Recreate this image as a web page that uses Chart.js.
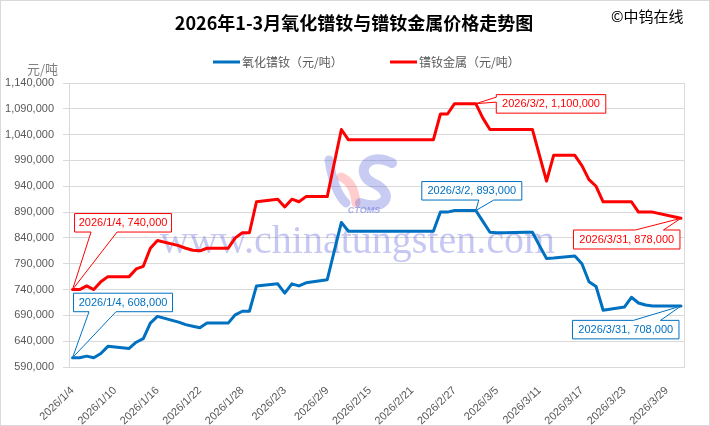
<!DOCTYPE html>
<html><head><meta charset="utf-8">
<script src="https://cdn.jsdelivr.net/npm/chart.js@4.4.1/dist/chart.umd.min.js"></script>
<style>html,body{margin:0;padding:0;background:#fff}#wrap{position:relative;width:710px;height:426px}canvas{display:block}</style>
</head><body><div id="wrap"><canvas id="c" width="710" height="426"></canvas></div>
<script>
// ---------- data ----------
const chartTitle = '2026年1-3月氧化镨钕与镨钕金属价格走势图';
const sourceText = '©中钨在线';
const unitText = '元/吨';
const watermarkText = 'www.chinatungsten.com';
const seriesNames = ['氧化镨钕（元/吨）', '镨钕金属（元/吨）'];
const dates = ['1/4','1/5','1/6','1/7','1/8','1/9','1/12','1/13','1/14','1/15','1/16','1/19','1/20','1/21','1/22','1/23',
  '1/26','1/27','1/28','1/29','1/30','2/2','2/3','2/4','2/5','2/6','2/9','2/10','2/11','2/12','2/13','2/14',
  '2/24','2/25','2/26','2/27','2/28','3/2','3/3','3/4','3/5','3/6','3/9','3/10','3/11','3/12','3/13',
  '3/16','3/17','3/18','3/19','3/20','3/23','3/24','3/25','3/26','3/27','3/30','3/31'];
const oxideValues = [608000,608000,611000,608000,616000,630000,626000,638000,645000,675000,688000,677000,672000,669000,666000,675000,
  675000,691000,698000,698000,747000,751000,733000,751000,747000,753000,759000,815000,870000,853000,853000,853000,
  853000,890000,890000,893000,893000,893000,872000,851000,850000,850000,851000,851000,825000,800000,801000,
  805000,790000,755000,746000,700000,706000,725000,714000,710000,708000,708000,708000];
const metalValues = [740000,740000,747000,740000,755000,765000,765000,780000,785000,820000,835000,825000,820000,816000,815000,820000,
  820000,840000,850000,850000,910000,915000,900000,915000,910000,920000,920000,985000,1050000,1030000,1030000,1030000,
  1030000,1080000,1080000,1100000,1100000,1100000,1072000,1050000,1050000,1050000,1050000,1050000,1000000,950000,1000000,
  1000000,980000,953000,940000,910000,910000,910000,890000,890000,890000,881000,878000];
const xTickLabels = ['2026/1/4','2026/1/10','2026/1/16','2026/1/22','2026/1/28','2026/2/3','2026/2/9','2026/2/15',
  '2026/2/21','2026/2/27','2026/3/5','2026/3/11','2026/3/17','2026/3/23','2026/3/29'];
const yMin = 590000, yMax = 1140000, yStep = 50000;
const labelledPoints = [ // [series index, date]
  [1,'1/4'],[0,'1/4'],[1,'3/2'],[0,'3/2'],[1,'3/31'],[0,'3/31']
];

// ---------- helpers ----------
const YEAR = 2026;
const base = Date.UTC(YEAR,0,4);
function dayIndex(md){ const p = md.split('/').map(Number); const m = p.length===3 ? p.slice(1) : p; return (Date.UTC(YEAR,m[0]-1,m[1]) - base)/86400000; }
function fmtDay(v){ const d = new Date(base + v*86400000); return YEAR + '/' + (d.getUTCMonth()+1) + '/' + d.getUTCDate(); }
const fmtNum = v => Number(v).toLocaleString('en-US');
const COLORS = ['#0070C0', '#FF0000'];
const seriesValues = [oxideValues, metalValues];

// callout box styles (pixel offsets from the labelled point)
const calloutStyle = [
  {dx:2, dy:-76, w:97, h:18.5, side:'bottom', a:16.5, b:42.5},
  {dx:1, dy:-64.5, w:99, h:18.5, side:'bottom', a:15.5, b:42.5},
  {dx:20.5, dy:-9, w:109.5, h:18.5, side:'left', a:2.5, b:7.5},
  {dx:-54, dy:-29, w:100, h:18.5, side:'bottom', a:57, b:72},
  {dx:-107.5, dy:11.7, w:106.5, h:19, side:'top', a:62, b:90},
  {dx:-108.5, dy:14.3, w:106.5, h:18.5, side:'top', a:61, b:88}
];

function callout(ctx, x, y, w, h, side, a, b, tx, ty, color, text){
  ctx.save();
  ctx.beginPath();
  if (side === 'bottom'){
    ctx.moveTo(x,y); ctx.lineTo(x+w,y); ctx.lineTo(x+w,y+h); ctx.lineTo(x+b,y+h); ctx.lineTo(tx,ty); ctx.lineTo(x+a,y+h); ctx.lineTo(x,y+h);
  } else if (side === 'top'){
    ctx.moveTo(x,y); ctx.lineTo(x+a,y); ctx.lineTo(tx,ty); ctx.lineTo(x+b,y); ctx.lineTo(x+w,y); ctx.lineTo(x+w,y+h); ctx.lineTo(x,y+h);
  } else {
    ctx.moveTo(x,y); ctx.lineTo(x+w,y); ctx.lineTo(x+w,y+h); ctx.lineTo(x,y+h); ctx.lineTo(x,y+b); ctx.lineTo(tx,ty); ctx.lineTo(x,y+a);
  }
  ctx.closePath();
  ctx.fillStyle = '#fff'; ctx.fill();
  ctx.strokeStyle = color; ctx.lineWidth = 1; ctx.stroke();
  ctx.fillStyle = color;
  ctx.font = '11px "Liberation Sans", Arial, sans-serif';
  ctx.textAlign = 'center'; ctx.textBaseline = 'middle';
  ctx.fillText(text, x + w/2, y + h/2 + 0.5);
  ctx.restore();
}

const decor = {
  id: 'decor',
  beforeDatasetsDraw(chart){
    const ctx = chart.ctx, ca = chart.chartArea;
    ctx.save();
    // plot border
    ctx.strokeStyle = '#d9d9d9'; ctx.lineWidth = 1;
    ctx.strokeRect(Math.round(ca.left)+0.5, Math.round(ca.top)+0.5, Math.round(ca.right-ca.left)-1, Math.round(ca.bottom-ca.top));
    // logo watermark
    ctx.globalAlpha = 0.3; ctx.lineCap = 'round';
    ctx.strokeStyle = '#4a57d6'; ctx.lineWidth = 9;
    ctx.beginPath(); ctx.moveTo(329,160); ctx.quadraticCurveTo(334,192,346,203); ctx.stroke();
    ctx.strokeStyle = '#ff5a5a'; ctx.lineWidth = 9;
    ctx.beginPath(); ctx.moveTo(341,177); ctx.quadraticCurveTo(354,182,356,203); ctx.stroke();
    ctx.strokeStyle = '#4a57d6'; ctx.lineWidth = 10;
    ctx.beginPath(); ctx.moveTo(392,163); ctx.bezierCurveTo(366,150,354,174,373,183); ctx.bezierCurveTo(396,193,386,212,360,203); ctx.stroke();
    ctx.globalAlpha = 0.55;
    ctx.fillStyle = '#6b74d8';
    ctx.font = 'italic bold 9px "Liberation Sans", Arial, sans-serif';
    ctx.textAlign = 'center'; ctx.textBaseline = 'middle';
    ctx.fillText('CTOMS', 364, 211);
    // text watermark
    ctx.globalAlpha = 0.3;
    ctx.fillStyle = '#4646dc';
    ctx.font = '40px "Liberation Serif", "Times New Roman", serif';
    ctx.textAlign = 'left'; ctx.textBaseline = 'alphabetic';
    ctx.fillText(watermarkText, 160, 253);
    ctx.restore();
  },
  afterDatasetsDraw(chart){
    const ctx = chart.ctx;
    const xs = chart.scales.x, ys = chart.scales.y;
    labelledPoints.forEach((lp, k) => {
      const si = lp[0], i = dates.indexOf(lp[1]);
      const v = seriesValues[si][i];
      const tx = xs.getPixelForValue(dayIndex(dates[i])), ty = ys.getPixelForValue(v);
      const s = calloutStyle[k];
      callout(ctx, tx + s.dx, ty + s.dy, s.w, s.h, s.side, s.a, s.b, tx, ty, COLORS[si], YEAR + '/' + dates[i] + ', ' + fmtNum(v));
    });
  },
  afterDraw(chart){
    const ctx = chart.ctx;
    ctx.save();
    // title
    ctx.fillStyle = '#000';
    ctx.font = 'bold 18px "Noto Sans CJK SC", sans-serif';
    ctx.textAlign = 'center'; ctx.textBaseline = 'middle';
    ctx.fillText(chartTitle, 354, 23);
    // source
    ctx.font = '15px "Noto Sans CJK SC", sans-serif';
    ctx.textAlign = 'left';
    ctx.fillText(sourceText, 611, 16);
    // unit
    ctx.fillStyle = '#808080';
    ctx.font = '13px "Noto Sans CJK SC", sans-serif';
    ctx.fillText(unitText, 27, 69);
    // legend
    const lx = [213, 390];
    seriesNames.forEach((n, k) => {
      ctx.strokeStyle = COLORS[k]; ctx.lineWidth = 3;
      ctx.beginPath(); ctx.moveTo(lx[k], 62); ctx.lineTo(lx[k] + 27, 62); ctx.stroke();
      ctx.fillStyle = '#595959';
      ctx.font = '12px "Noto Sans CJK SC", sans-serif';
      ctx.textAlign = 'left'; ctx.textBaseline = 'middle';
      ctx.fillText(n, lx[k] + 29, 62);
    });
    // outer frame
    ctx.strokeStyle = '#d9d9d9'; ctx.lineWidth = 1;
    ctx.strokeRect(0.5, 0.5, 709, 425);
    ctx.restore();
  }
};

new Chart(document.getElementById('c'), {
  type: 'line',
  data: {
    datasets: seriesNames.map((n, k) => ({
      label: n,
      data: dates.map((d, i) => ({x: dayIndex(d), y: seriesValues[k][i]})),
      borderColor: COLORS[k], backgroundColor: COLORS[k],
      borderWidth: 3, pointRadius: 0, tension: 0,
      borderJoinStyle: 'round', borderCapStyle: 'round'
    }))
  },
  options: {
    responsive: false, animation: false, devicePixelRatio: 1,
    layout: {padding: {left: 0, right: 25.5, top: 83, bottom: 0}},
    plugins: {legend: {display: false}, title: {display: false}, tooltip: {enabled: false}},
    scales: {
      x: {
        type: 'linear', min: -0.5, max: 86.5,
        afterBuildTicks: ax => { ax.ticks = xTickLabels.map(l => ({value: dayIndex(l)})); },
        afterFit: sc => { sc.height = 59; },
        grid: {display: false},
        border: {display: true, color: '#d9d9d9'},
        ticks: {
          autoSkip: false, minRotation: 44, maxRotation: 44, padding: 9,
          color: '#595959', font: {size: 11, family: '"Liberation Sans", Arial, sans-serif'},
          callback: v => fmtDay(v)
        }
      },
      y: {
        min: yMin, max: yMax,
        afterFit: sc => { sc.width = 69; },
        grid: {color: '#d9d9d9', tickLength: 6, tickColor: '#d9d9d9'},
        border: {display: true, color: '#d9d9d9'},
        ticks: {
          stepSize: yStep, padding: 9,
          color: '#595959', font: {size: 11, family: '"Liberation Sans", Arial, sans-serif'},
          callback: v => fmtNum(v)
        }
      }
    }
  },
  plugins: [decor]
});
</script></body></html>
